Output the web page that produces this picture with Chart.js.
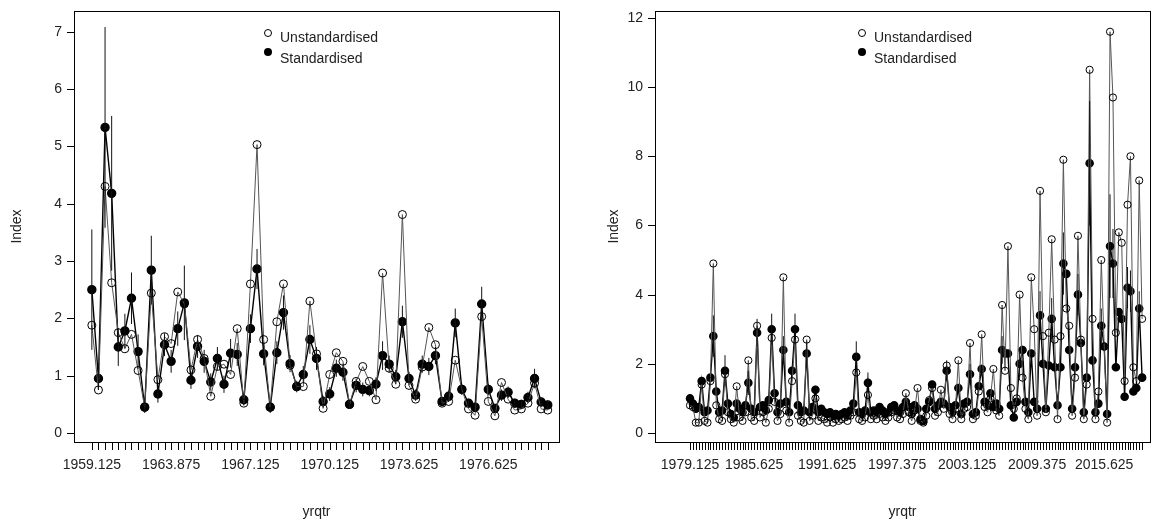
<!DOCTYPE html>
<html>
<head>
<meta charset="utf-8">
<script src="https://cdn.jsdelivr.net/npm/chart.js@4"></script>
<style>
  body { margin: 0; background: #fff; }
  .panel { position: absolute; top: 0; height: 523px; }
  #p1 { left: 0; width: 580px; }
  #p2 { left: 580px; width: 582px; }
</style>
</head>
<body>
<div class="panel" id="p1"><canvas id="c1"></canvas></div>
<div class="panel" id="p2"><canvas id="c2"></canvas></div>
<script>
// ---- left panel data (1959-1979) ----
const leftLabels = ['1959.125', '1963.875', '1967.125', '1970.125', '1973.625', '1976.625'];
const leftLabelIdx = [0, 12, 24, 36, 48, 60];
const leftUnstd = [
  1.88, 0.75, 4.3, 2.62, 1.75, 1.47, 1.72, 1.09, 0.45, 2.44,
  0.93, 1.68, 1.56, 2.46, 2.25, 1.1, 1.63, 1.3, 0.64, 1.16,
  1.2, 1.02, 1.82, 0.52, 2.6, 5.03, 1.63, 0.45, 1.94, 2.6,
  1.18, 0.81, 0.81, 2.3, 1.38, 0.43, 1.02, 1.4, 1.25, 0.5,
  0.9, 1.16, 0.9, 0.58, 2.79, 1.13, 0.85, 3.81, 0.83, 0.59,
  1.15, 1.84, 1.54, 0.52, 0.55, 1.27, 0.76, 0.42, 0.31, 2.03,
  0.55, 0.3, 0.88, 0.59, 0.4, 0.42, 0.52, 0.87, 0.42, 0.4
];
const leftStd = [
  2.5, 0.95, 5.33, 4.18, 1.5, 1.78, 2.35, 1.42, 0.45, 2.84,
  0.68, 1.54, 1.25, 1.82, 2.27, 0.92, 1.51, 1.25, 0.89, 1.3,
  0.85, 1.39, 1.37, 0.58, 1.82, 2.86, 1.38, 0.45, 1.4, 2.1,
  1.21, 0.81, 1.02, 1.63, 1.3, 0.55, 0.68, 1.13, 1.06, 0.5,
  0.83, 0.76, 0.74, 0.85, 1.35, 1.2, 0.98, 1.94, 0.95, 0.66,
  1.2, 1.16, 1.35, 0.55, 0.64, 1.92, 0.76, 0.52, 0.45, 2.25,
  0.76, 0.43, 0.66, 0.71, 0.52, 0.5, 0.62, 0.95, 0.54, 0.49
];
const leftErr = [
  1.05, 0.2, 1.75, 1.35, 0.33, 0.3, 0.45, 0.3, 0.1, 0.6,
  0.15, 0.2, 0.2, 0.3, 0.65, 0.15, 0.2, 0.2, 0.15, 0.2,
  0.15, 0.25, 0.2, 0.1, 0.25, 0.35, 0.2, 0.1, 0.2, 0.3,
  0.15, 0.1, 0.15, 0.25, 0.2, 0.1, 0.12, 0.15, 0.15, 0.08,
  0.12, 0.12, 0.1, 0.12, 0.25, 0.15, 0.12, 0.28, 0.12, 0.1,
  0.15, 0.15, 0.15, 0.08, 0.1, 0.25, 0.1, 0.08, 0.08, 0.3,
  0.1, 0.08, 0.1, 0.1, 0.08, 0.08, 0.1, 0.17, 0.08, 0.08
];

// ---- right panel data (1979-2016) ----
const rightLabels = ['1979.125', '1985.625', '1991.625', '1997.375', '2003.125', '2009.375', '2015.625'];
const rightLabelIdx = [0, 22, 47, 71, 95, 119, 142];
const rightUnstd = [
  0.8, 0.75, 0.3, 0.3, 1.4, 0.35, 0.3, 1.5, 4.9, 0.8,
  0.4, 0.35, 1.7, 0.6, 0.4, 0.3, 1.35, 0.45, 0.35, 0.6,
  2.1, 0.45, 0.35, 3.1, 0.45, 0.6, 0.3, 0.7, 2.75, 0.9,
  0.35, 0.55, 4.5, 0.65, 0.3, 1.5, 2.7, 0.5, 0.35, 0.3,
  2.7, 0.35, 0.5, 1.0, 0.35, 0.45, 0.4, 0.3, 0.45, 0.3,
  0.4, 0.35, 0.4, 0.45, 0.35, 0.5, 0.6, 1.75, 0.4, 0.35,
  0.45, 1.1, 0.4, 0.5, 0.4, 0.55, 0.45, 0.35, 0.45, 0.6,
  0.65, 0.45, 0.4, 0.55, 1.15, 0.6, 0.35, 0.65, 1.3, 0.35,
  0.3, 0.5, 0.95, 1.3, 0.5, 0.6, 1.25, 0.7, 1.95, 0.55,
  0.4, 0.7, 2.1, 0.4, 0.7, 0.75, 2.6, 0.4, 0.5, 1.2,
  2.85, 0.75, 0.6, 1.0, 1.85, 0.65, 0.5, 3.7, 1.8, 5.4,
  1.3, 0.7, 1.0, 4.0, 1.6, 0.7, 0.4, 4.5, 3.0, 0.5,
  7.0, 2.8, 0.6, 2.9, 5.6, 2.7, 0.4, 2.8, 7.9, 3.6,
  3.1, 0.5, 1.6, 5.7, 2.7, 0.4, 1.4, 10.5, 3.3, 0.4,
  1.2, 5.0, 2.5, 0.3, 11.6, 9.7, 2.9, 5.8, 5.5, 1.5,
  6.6, 8.0, 1.9, 1.5, 7.3, 3.3
];
const rightStd = [
  1.0, 0.85, 0.7, 0.75, 1.5, 0.6, 0.65, 1.6, 2.8, 1.2,
  0.6, 0.65, 1.8, 0.85, 0.55, 0.45, 0.85, 0.7, 0.6, 0.8,
  1.45, 0.7, 0.6, 2.9, 0.75, 0.8, 0.65, 0.95, 3.0, 1.15,
  0.6, 0.85, 2.4, 0.9, 0.6, 1.8, 3.0, 0.8, 0.6, 0.65,
  2.3, 0.6, 0.75, 1.25, 0.6, 0.7, 0.6, 0.55, 0.6, 0.5,
  0.55, 0.5, 0.55, 0.6, 0.5, 0.65, 0.85, 2.2, 0.6, 0.55,
  0.65, 1.45, 0.6, 0.65, 0.6, 0.75, 0.65, 0.55, 0.6, 0.75,
  0.8, 0.65, 0.6, 0.75, 0.9, 0.75, 0.55, 0.8, 0.7, 0.4,
  0.35, 0.7, 0.9, 1.4, 0.7, 0.8, 0.9, 0.85, 1.8, 0.75,
  0.6, 0.8, 1.3, 0.55, 0.85, 0.9, 1.7, 0.55, 0.6, 1.35,
  1.85, 0.9, 0.8, 1.15, 0.75, 0.85, 0.7, 2.4, 2.3, 2.3,
  0.8, 0.45, 0.9, 2.0, 2.4, 0.9, 0.6, 2.3, 0.9, 0.7,
  3.4, 2.0, 0.7, 1.95, 3.3, 1.9, 0.8, 1.9, 4.9, 4.6,
  2.4, 0.7, 1.9, 4.0, 2.6, 0.6, 1.6, 7.8, 2.1, 0.6,
  0.85, 3.1, 2.5, 0.55, 5.4, 4.9, 1.9, 3.5, 3.3, 1.05,
  4.2, 4.1, 1.2, 1.3, 3.6, 1.6
];
// [point index, half-width] for the visible error bars
const rightErr = [
  [8, 0.6], [12, 0.45], [20, 0.35], [23, 0.4], [28, 0.45], [32, 0.4], [36, 0.45],
  [40, 0.35], [57, 0.45], [61, 0.3], [88, 0.3], [96, 0.3], [107, 0.4], [113, 0.4],
  [120, 0.7], [124, 0.6], [128, 0.9], [133, 0.6], [137, 1.8], [141, 0.5],
  [144, 1.5], [145, 1.0], [150, 0.6], [151, 0.6], [154, 0.5]
];

function pts(values) {
  return values.map((v, i) => ({ x: i, y: v }));
}

const font = '14px "Liberation Sans", Arial, sans-serif';
const ink = '#222';

// draws the R-style box, axes, error bars and legend
const rStyle = {
  id: 'rStyle',
  afterDatasetsDraw(chart, args, opts) {
    const ctx = chart.ctx;
    const a = chart.chartArea;
    const xs = chart.scales.x;
    const ys = chart.scales.y;
    ctx.save();

    // error bars on the standardised series
    ctx.strokeStyle = '#111';
    ctx.lineWidth = 1;
    opts.err.forEach(([i, e]) => {
      const v = opts.std[i];
      const px = xs.getPixelForValue(i);
      ctx.beginPath();
      ctx.moveTo(px, ys.getPixelForValue(v - e));
      ctx.lineTo(px, ys.getPixelForValue(v + e));
      ctx.stroke();
    });

    // box
    ctx.strokeStyle = '#000';
    ctx.strokeRect(a.left + 0.5, a.top + 0.5, a.right - a.left, a.bottom - a.top);

    // y axis
    ctx.font = font;
    ctx.fillStyle = ink;
    ctx.textAlign = 'right';
    ctx.textBaseline = 'middle';
    ctx.beginPath();
    for (let v = 0; v <= opts.yMax; v += opts.yStep) {
      const py = Math.round(ys.getPixelForValue(v)) + 0.5;
      ctx.moveTo(a.left, py);
      ctx.lineTo(a.left - 7, py);
      ctx.fillText(String(v), a.left - 12, py);
    }
    ctx.stroke();

    // x axis: a tick for every point, labels at some
    ctx.beginPath();
    const n = opts.std.length;
    ctx.moveTo(xs.getPixelForValue(0), a.bottom + 0.5);
    ctx.lineTo(xs.getPixelForValue(n - 1), a.bottom + 0.5);
    for (let i = 0; i < n; i++) {
      const px = Math.round(xs.getPixelForValue(i)) + 0.5;
      ctx.moveTo(px, a.bottom);
      ctx.lineTo(px, a.bottom + 8);
    }
    ctx.stroke();
    ctx.textAlign = 'center';
    ctx.textBaseline = 'top';
    opts.labelIdx.forEach((i, k) => {
      ctx.fillText(opts.labels[k], xs.getPixelForValue(i), a.bottom + 16);
    });

    // axis titles
    ctx.fillText('yrqtr', (a.left + a.right) / 2, a.bottom + 63);
    ctx.save();
    ctx.translate(a.left - opts.titleGap, (a.top + a.bottom) / 2);
    ctx.rotate(-Math.PI / 2);
    ctx.textBaseline = 'middle';
    ctx.fillText('Index', 0, 0);
    ctx.restore();

    // legend
    const lx = opts.legendX;
    ctx.textAlign = 'left';
    ctx.textBaseline = 'middle';
    ctx.beginPath();
    ctx.arc(lx, 33, 3.5, 0, Math.PI * 2);
    ctx.stroke();
    ctx.beginPath();
    ctx.arc(lx, 52, 4, 0, Math.PI * 2);
    ctx.fillStyle = '#000';
    ctx.fill();
    ctx.fillStyle = ink;
    ctx.fillText('Unstandardised', lx + 12, 38);
    ctx.fillText('Standardised', lx + 12, 59);
    ctx.restore();
  }
};

function makeChart(id, unstd, std, cfg) {
  return new Chart(document.getElementById(id), {
    type: 'line',
    data: {
      datasets: [
        {
          data: pts(unstd),
          borderColor: '#555',
          borderWidth: 1,
          pointStyle: 'circle',
          pointRadius: cfg.r,
          pointBorderColor: '#000',
          pointBorderWidth: 1,
          pointBackgroundColor: 'rgba(0,0,0,0)',
          tension: 0
        },
        {
          data: pts(std),
          borderColor: '#000',
          borderWidth: 1.4,
          pointRadius: cfg.r,
          pointBorderColor: '#000',
          pointBackgroundColor: '#000',
          tension: 0
        }
      ]
    },
    options: {
      responsive: true,
      maintainAspectRatio: false,
      animation: false,
      layout: { padding: cfg.pad },
      scales: {
        x: { type: 'linear', display: false, min: cfg.xMin, max: cfg.xMax },
        y: { display: false, min: cfg.yMin, max: cfg.yTop }
      },
      plugins: {
        legend: { display: false },
        tooltip: { enabled: false },
        rStyle: cfg.style
      }
    },
    plugins: [rStyle]
  });
}

makeChart('c1', leftUnstd, leftStd, {
  r: 4,
  pad: { left: 74, right: 21, top: 11, bottom: 81 },
  xMin: -2.7, xMax: 70.7, yMin: -0.157, yTop: 7.36,
  style: {
    std: leftStd, err: leftErr.map((e, i) => [i, e]),
    labels: leftLabels, labelIdx: leftLabelIdx,
    yMax: 7, yStep: 1, legendX: 268, titleGap: 57
  }
});

makeChart('c2', rightUnstd, rightStd, {
  r: 3.6,
  pad: { left: 75, right: 12, top: 11, bottom: 81 },
  xMin: -12, xMax: 157.7, yMin: -0.26, yTop: 12.2,
  style: {
    std: rightStd, err: rightErr,
    labels: rightLabels, labelIdx: rightLabelIdx,
    yMax: 12, yStep: 2, legendX: 282, titleGap: 41
  }
});
</script>
</body>
</html>
